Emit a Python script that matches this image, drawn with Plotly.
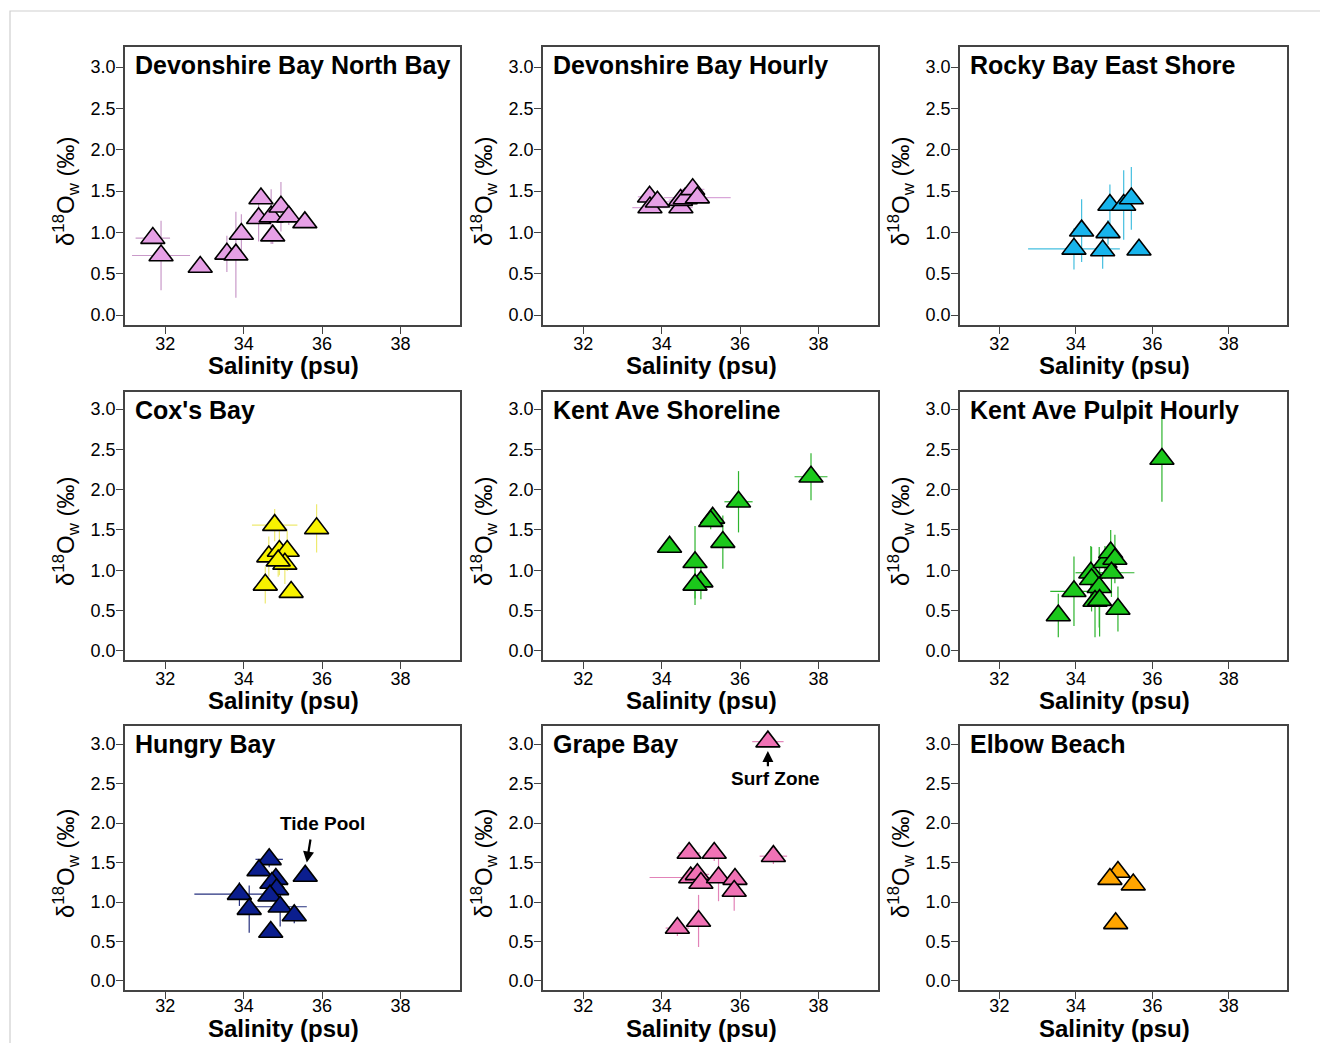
import plotly.graph_objects as go

W, H = 1320, 1043

# ---------------- data ----------------
site_names = ["Devonshire Bay North Bay", "Devonshire Bay Hourly", "Rocky Bay East Shore",
              "Cox's Bay", "Kent Ave Shoreline", "Kent Ave Pulpit Hourly",
              "Hungry Bay", "Grape Bay", "Elbow Beach"]

dbnb_sal = [31.68, 31.89, 32.89, 33.57, 33.80, 33.94, 34.44, 34.38, 34.70, 34.95, 35.15, 34.74, 35.56]
dbnb_d18o = [0.93, 0.72, 0.58, 0.74, 0.73, 0.98, 1.41, 1.17, 1.19, 1.31, 1.19, 0.96, 1.12]
dbnb_sal_err = [0.44, 0.74, 0, 0, 0, 0, 0, 0, 0, 0, 0.1, 0, 0]
dbnb_d18o_err = [0.0, 0.42, 0, 0.22, 0.52, 0.24, 0, 0.28, 0.33, 0.30, 0.1, 0.1, 0.05]

dbh_sal = [33.69, 33.70, 33.89, 34.49, 34.48, 34.60, 34.79, 34.91]
dbh_d18o = [1.43, 1.30, 1.37, 1.30, 1.39, 1.41, 1.52, 1.42]
dbh_sal_err = [0.3, 0.45, 0.5, 0.3, 0.3, 0.2, 0.3, 0.85]
dbh_d18o_err = [0.02, 0.02, 0.02, 0.02, 0.02, 0.02, 0.02, 0.02]

rbes_sal = [33.95, 34.15, 34.70, 34.84, 34.89, 35.25, 35.45, 35.65]
rbes_d18o = [0.80, 1.02, 0.78, 1.00, 1.33, 1.33, 1.41, 0.79]
rbes_sal_err = [1.2, 0, 0, 0, 0, 0, 0, 0]
rbes_d18o_err = [0.25, 0.38, 0.22, 0.15, 0.25, 0.42, 0.38, 0]

cox_sal = [34.79, 35.86, 34.64, 34.91, 35.11, 35.05, 34.88, 34.55, 35.21]
cox_d18o = [1.56, 1.52, 1.17, 1.24, 1.24, 1.08, 1.12, 0.82, 0.73]
cox_sal_err = [0.58, 0.15, 0, 0, 0, 0, 0, 0, 0]
cox_d18o_err = [0.2, 0.3, 0.25, 0.3, 0.25, 0.25, 0.2, 0.23, 0.05]

kas_sal = [34.20, 34.85, 35.00, 34.85, 35.30, 35.25, 35.56, 35.96, 37.81]
kas_d18o = [1.29, 1.10, 0.86, 0.82, 1.65, 1.61, 1.35, 1.85, 2.16]
kas_sal_err = [0.15, 0, 0, 0, 0, 0, 0, 0.36, 0.42]
kas_d18o_err = [0.05, 0.45, 0.22, 0.25, 0.1, 0.1, 0.33, 0.38, 0.29]

kap_sal = [36.25, 33.54, 33.95, 34.39, 34.41, 34.61, 34.50, 34.62, 34.76, 34.91, 35.02, 34.93, 35.10]
kap_d18o = [2.38, 0.44, 0.74, 0.97, 0.89, 0.79, 0.62, 0.63, 1.10, 1.22, 1.14, 0.97, 0.52]
kap_sal_err = [0, 0, 0.62, 0.4, 0, 0, 0, 0, 0, 0, 0, 0.6, 0.2]
kap_d18o_err = [0.53, 0.27, 0.43, 0.33, 0.4, 0.5, 0.45, 0.45, 0.2, 0.28, 0.3, 0.3, 0.28]

hb_sal = [34.65, 34.39, 35.57, 34.82, 34.72, 34.84, 34.67, 33.89, 34.14, 34.93, 35.29, 34.69]
hb_d18o = [1.54, 1.40, 1.33, 1.29, 1.24, 1.16, 1.08, 1.10, 0.91, 0.94, 0.83, 0.62]
hb_sal_err = [0.35, 0, 0, 0, 0, 0, 0, 1.15, 0, 0.68, 0, 0]
hb_d18o_err = [0.1, 0, 0, 0, 0, 0, 0, 0.15, 0.3, 0.25, 0.1, 0]

gb_sal = [36.71, 34.70, 35.34, 36.85, 34.74, 34.91, 35.00, 35.45, 35.87, 35.85, 34.94, 34.40]
gb_d18o = [3.03, 1.62, 1.62, 1.58, 1.31, 1.35, 1.24, 1.31, 1.29, 1.14, 0.76, 0.67]
gb_sal_err = [0.4, 0.28, 0, 0.35, 1.05, 0.3, 0, 0, 0, 0, 0, 0.3]
gb_d18o_err = [0, 0, 0.1, 0.1, 0, 0, 0, 0.3, 0, 0.25, 0.33, 0.1]

eb_sal = [35.10, 34.89, 35.50, 35.04]
eb_d18o = [1.38, 1.29, 1.22, 0.73]
eb_sal_err = [0.1, 0.1, 0.15, 0]
eb_d18o_err = [0, 0, 0, 0]

x_ticks = [32, 34, 36, 38]
y_ticks = [0.0, 0.5, 1.0, 1.5, 2.0, 2.5, 3.0]

# ---------------- styling ----------------
panels = [
    (dbnb_sal, dbnb_d18o, dbnb_sal_err, dbnb_d18o_err, "#E6A0E6", "#C99AC9"),
    (dbh_sal, dbh_d18o, dbh_sal_err, dbh_d18o_err, "#E6A0E6", "#D9A6D9"),
    (rbes_sal, rbes_d18o, rbes_sal_err, rbes_d18o_err, "#17B4EC", "#45BFE0"),
    (cox_sal, cox_d18o, cox_sal_err, cox_d18o_err, "#F8F200", "#EEEA70"),
    (kas_sal, kas_d18o, kas_sal_err, kas_d18o_err, "#1BC81B", "#2DB42D"),
    (kap_sal, kap_d18o, kap_sal_err, kap_d18o_err, "#1BC81B", "#2DB42D"),
    (hb_sal, hb_d18o, hb_sal_err, hb_d18o_err, "#0B1E8E", "#26307E"),
    (gb_sal, gb_d18o, gb_sal_err, gb_d18o_err, "#F072B5", "#E283B8"),
    (eb_sal, eb_d18o, eb_sal_err, eb_d18o_err, "#FFA500", "#F2B455"),
]

col_px = [(125, 460), (543, 878), (960, 1287)]
row_px = [(47, 325), (392, 660), (726, 990)]
row_yrange = [(-0.121, 3.242), (-0.112, 3.211), (-0.114, 3.228)]
row_xtitle_shift = [-40, -40, -38]
row_xtick_standoff = [-5, -5, -8]
x_range = [30.97, 39.52]

FONT = "Liberation Sans, Arial, sans-serif"

fig = go.Figure()
layout = dict(
    width=W, height=H,
    margin=dict(l=0, r=0, t=0, b=0),
    paper_bgcolor="white", plot_bgcolor="white",
    showlegend=False,
    font=dict(family=FONT, color="black"),
)
annotations = []

for i, (sx, sy, ex, ey, fill, ecol) in enumerate(panels):
    r, c = divmod(i, 3)
    k = "" if i == 0 else str(i + 1)
    xa, ya = "x" + k, "y" + k
    fig.add_trace(go.Scatter(
        x=sx, y=sy, mode="markers", xaxis=xa, yaxis=ya,
        marker=dict(symbol="triangle-up", size=21, color=fill,
                    line=dict(color="black", width=1.6)),
        error_x=dict(type="data", array=ex, visible=True, color=ecol, thickness=1.2, width=0),
        error_y=dict(type="data", array=ey, visible=True, color=ecol, thickness=1.2, width=0),
        hoverinfo="skip",
    ))
    x0, x1 = col_px[c]
    y0, y1 = row_px[r]
    axis_common = dict(showline=True, mirror=True, linecolor="#444", linewidth=1.5,
                       ticks="outside", ticklen=7, tickwidth=1.2, tickcolor="#444",
                       showgrid=False, zeroline=False,
                       tickfont=dict(family=FONT, size=18, color="black"))
    layout["xaxis" + k] = dict(domain=[x0 / W, x1 / W], range=x_range, anchor=ya,
                               tickvals=x_ticks, ticktext=[str(t) for t in x_ticks],
                               ticklabelstandoff=row_xtick_standoff[r], **axis_common)
    layout["yaxis" + k] = dict(domain=[1 - y1 / H, 1 - y0 / H], range=list(row_yrange[r]), anchor=xa,
                               tickvals=y_ticks, ticktext=["%.1f" % t for t in y_ticks],
                               ticklabelstandoff=-3, **axis_common)
    # panel title
    annotations.append(dict(text="<b>" + site_names[i] + "</b>", xref=xa + " domain", yref=ya + " domain",
                            x=0, y=1, xanchor="left", yanchor="middle", xshift=8, yshift=-18,
                            showarrow=False, font=dict(family=FONT, size=25, color="black")))
    # x axis title
    annotations.append(dict(text="<b>Salinity (psu)</b>", xref=xa + " domain", yref=ya + " domain",
                            x=0.5, y=0, xanchor="center", yanchor="middle", xshift=-9,
                            yshift=row_xtitle_shift[r],
                            showarrow=False, font=dict(family=FONT, size=24, color="black")))
    # y axis title
    annotations.append(dict(text="\u03b4<sup>18</sup>O<sub>w</sub> (\u2030)", xref=xa + " domain", yref=ya + " domain",
                            x=0, y=0.5, xanchor="center", yanchor="middle", xshift=-59, yshift=-6,
                            textangle=-90, showarrow=False,
                            font=dict(family=FONT, size=24, color="black")))

# Hungry Bay: Tide Pool
annotations.append(dict(text="<b>Tide Pool</b>", xref="x7", yref="y7", x=36.0, y=2.0,
                        showarrow=False, font=dict(family=FONT, size=19, color="black")))
annotations.append(dict(text="", xref="x7", yref="y7", x=35.61, y=1.50, axref="x7", ayref="y7",
                        ax=35.71, ay=1.81, showarrow=True, arrowhead=2, arrowsize=1, arrowwidth=2.2,
                        arrowcolor="black"))
# Grape Bay: Surf Zone
annotations.append(dict(text="<b>Surf Zone</b>", xref="x8", yref="y8", x=36.90, y=2.56,
                        showarrow=False, font=dict(family=FONT, size=19, color="black")))
annotations.append(dict(text="", xref="x8", yref="y8", x=36.71, y=2.91, axref="x8", ayref="y8",
                        ax=36.71, ay=2.70, showarrow=True, arrowhead=2, arrowsize=1, arrowwidth=2.2,
                        arrowcolor="black"))

layout["annotations"] = annotations
layout["shapes"] = [dict(type="rect", xref="paper", yref="paper", x0=10 / W, x1=1.01,
                         y0=-0.01, y1=1 - 11 / H, line=dict(color="#CFCFCF", width=1.2),
                         fillcolor="rgba(0,0,0,0)", layer="below")]
fig.update_layout(**layout)
fig.write_html("out.html")
